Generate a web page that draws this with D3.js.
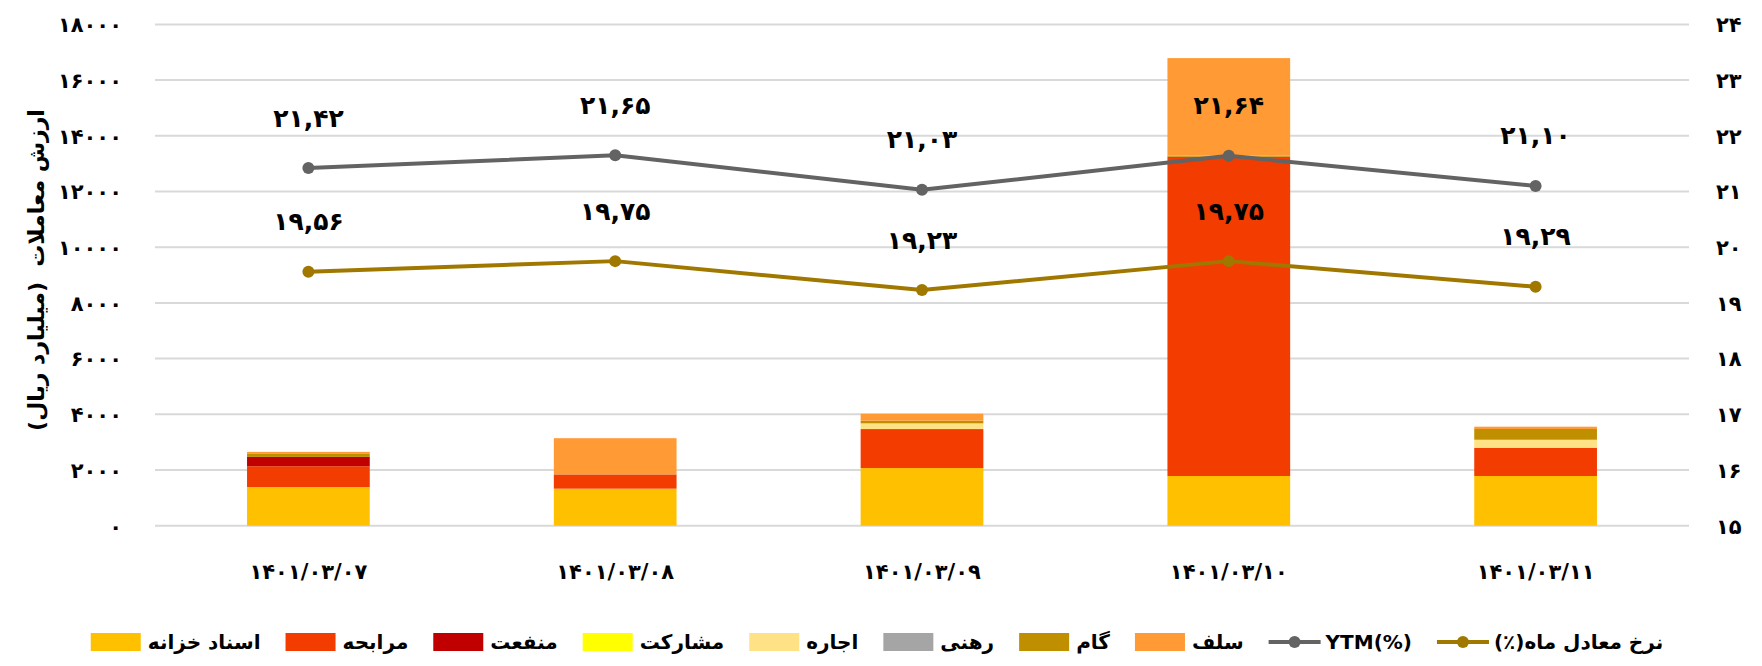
<!DOCTYPE html>
<html><head><meta charset="utf-8">
<script src="https://cdn.jsdelivr.net/npm/d3@7"></script>
<style>
html,body{margin:0;padding:0;background:#fff;}
svg{display:block;font-family:"DejaVu Sans",sans-serif;font-weight:bold;}
</style></head>
<body>
<svg id="c" width="1762" height="666"></svg>
<script>
const categories = ["1401/03/07","1401/03/08","1401/03/09","1401/03/10","1401/03/11"];
const seriesNames = ["اسناد خزانه","مرابحه","منفعت","مشارکت","اجاره","رهنی","گام","سلف"];
const seriesColors = ["#FFC000","#F23C00","#C00000","#FFFF00","#FFE286","#A5A5A5","#BF8F00","#FF9A35"];
const treasury   = [1390, 1330, 2070, 1785, 1785];
const murabaha   = [745, 467, 1400, 11465, 1015];
const manfaat    = [335, 40, 0, 0, 0];
const mosharekat = [0, 0, 0, 0, 0];
const ejare      = [0, 0, 205, 0, 287];
const rahni      = [0, 0, 0, 0, 0];
const gam        = [108, 0, 95, 40, 385];
const salaf      = [72, 1305, 250, 3500, 83];
const ytm        = [21.42, 21.65, 21.03, 21.64, 21.10];
const monthRate  = [19.56, 19.75, 19.23, 19.75, 19.29];
const leftTicks  = [0,2000,4000,6000,8000,10000,12000,14000,16000,18000];
const rightTicks = [15,16,17,18,19,20,21,22,23,24];
const ytmName = "YTM(%)";
const rateName = "نرخ معادل ماه(٪)";
const yTitle = "ارزش معاملات  (میلیارد ریال)";

const fa = s => String(s).replace(/[0-9]/g, d => "۰۱۲۳۴۵۶۷۸۹"[+d]);
const rtl = s => "\u200F" + s + "\u200F";

const svg = d3.select("#c");
const L = 155, R = 1689, T = 24.4, B = 525.7;

const x = d3.scaleBand().domain(categories).range([L, R]).paddingInner(0.6).paddingOuter(0.3);
const y = d3.scaleLinear().domain([0, 18000]).range([B, T]);
const y2 = d3.scaleLinear().domain([15, 24]).range([B, T]);

// gridlines
svg.append("g").selectAll("line").data(leftTicks).join("line")
  .attr("x1", L).attr("x2", R)
  .attr("y1", d => y(d)).attr("y2", d => y(d))
  .attr("stroke", "#d9d9d9").attr("stroke-width", 2);

// left axis
const ax = d3.axisLeft(y).tickValues(leftTicks).tickSize(0).tickFormat(d => fa(d));
const gL = svg.append("g").attr("transform", `translate(${122},0)`).call(ax);
gL.select(".domain").remove();
gL.selectAll("text").attr("font-size", 21).attr("font-family", "DejaVu Sans").attr("font-weight", "bold").attr("fill", "#000").attr("x", 0).attr("dy", "0.35em");

// right axis
const ax2 = d3.axisRight(y2).tickValues(rightTicks).tickSize(0).tickFormat(d => fa(d));
const gR = svg.append("g").attr("transform", `translate(${1716},0)`).call(ax2);
gR.select(".domain").remove();
gR.selectAll("text").attr("font-size", 21).attr("font-family", "DejaVu Sans").attr("font-weight", "bold").attr("fill", "#000").attr("x", 0).attr("dy", "0.35em");

// x axis labels
svg.append("g").selectAll("text").data(categories).join("text")
  .attr("x", d => x(d) + x.bandwidth()/2).attr("y", 572)
  .attr("text-anchor", "middle").attr("dominant-baseline", "central")
  .attr("font-size", 21).attr("direction", "ltr")
  .text(d => fa(d));

// y title
svg.append("text").attr("transform", "translate(36,270) rotate(-90)")
  .attr("text-anchor", "middle").attr("dominant-baseline", "central")
  .attr("font-size", 22).attr("xml:space", "preserve").style("white-space", "pre").text(rtl(yTitle));

// stacked bars
const seriesData = [treasury, murabaha, manfaat, mosharekat, ejare, rahni, gam, salaf];
const rows = categories.map((c, i) => {
  const r = {cat: c};
  seriesNames.forEach((n, k) => r[n] = seriesData[k][i]);
  return r;
});
const stack = d3.stack().keys(seriesNames)(rows);
svg.append("g").selectAll("g").data(stack).join("g")
  .attr("fill", (d, i) => seriesColors[i])
  .selectAll("rect").data(d => d.filter(p => p[1] - p[0] > 0)).join("rect")
  .attr("x", d => x(d.data.cat)).attr("width", x.bandwidth())
  .attr("y", d => y(d[1])).attr("height", d => y(d[0]) - y(d[1]));

// lines
const lineGen = vals => d3.line().x((d, i) => x(categories[i]) + x.bandwidth()/2).y(d => y2(d))(vals);
function drawLine(vals, color) {
  svg.append("path").attr("d", lineGen(vals)).attr("fill", "none")
    .attr("stroke", color).attr("stroke-width", 4).attr("stroke-linejoin", "round");
  svg.append("g").selectAll("circle").data(vals).join("circle")
    .attr("cx", (d, i) => x(categories[i]) + x.bandwidth()/2).attr("cy", d => y2(d))
    .attr("r", 6).attr("fill", color);
  svg.append("g").selectAll("text").data(vals).join("text")
    .attr("x", (d, i) => x(categories[i]) + x.bandwidth()/2).attr("y", d => y2(d) - 50)
    .attr("text-anchor", "middle").attr("dominant-baseline", "central")
    .attr("font-size", 25).attr("fill", "#000")
    .text(d => fa(d.toFixed(2).replace(".", ",")));
}
drawLine(monthRate, "#A07800");
drawLine(ytm, "#636363");

// legend
const leg = svg.append("g");
let cx = 0;
const items = seriesNames.map((n, i) => ({name: rtl(n), color: seriesColors[i], type: "rect"}))
  .concat([{name: ytmName, color: "#636363", type: "line"}, {name: rtl(rateName), color: "#A07800", type: "line"}]);
items.forEach(it => {
  const g = leg.append("g").attr("transform", `translate(${cx},0)`);
  if (it.type === "rect") {
    g.append("rect").attr("x", 0).attr("y", -9).attr("width", 50).attr("height", 18).attr("fill", it.color);
  } else {
    g.append("line").attr("x1", 0).attr("x2", 52).attr("y1", 0).attr("y2", 0).attr("stroke", it.color).attr("stroke-width", 4);
    g.append("circle").attr("cx", 26).attr("cy", 0).attr("r", 6).attr("fill", it.color);
  }
  const t = g.append("text").attr("x", 57).attr("y", 0).attr("dominant-baseline", "central")
    .attr("font-size", 20).text(it.name);
  cx += 57 + t.node().getComputedTextLength() + 25;
});
const totalW = cx - 25;
leg.attr("transform", `translate(${877 - totalW/2},642)`);
</script>
</body></html>
